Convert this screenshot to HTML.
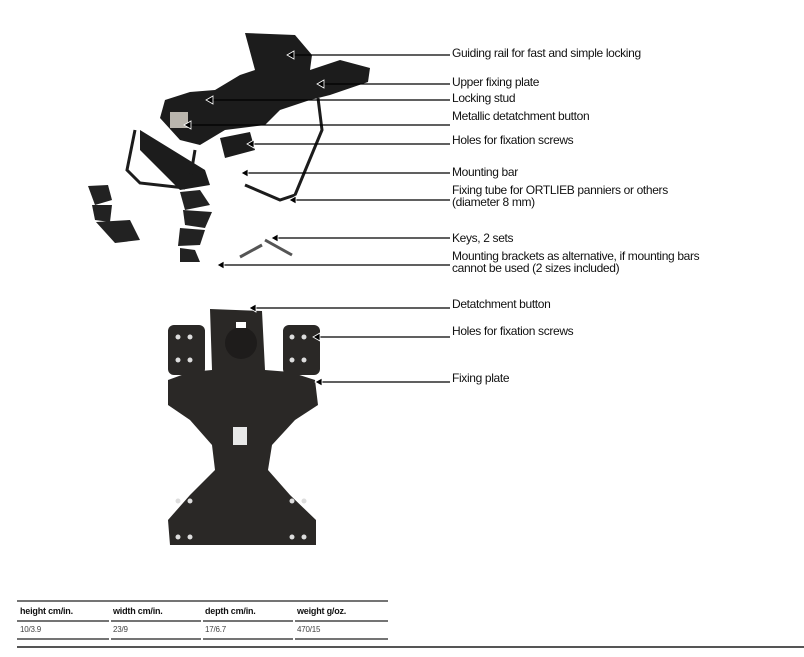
<!DOCTYPE html>
<html><head><meta charset="utf-8"><style>
body{margin:0;width:804px;height:657px;background:#fff;position:relative;overflow:hidden;font-family:"Liberation Sans",sans-serif}
.l{position:absolute;left:452px;font-size:12px;color:#111;line-height:12px;white-space:nowrap;letter-spacing:-0.35px}
.t{position:absolute;font-size:9px;color:#111;letter-spacing:-0.2px}
.h{font-weight:bold}
.v{font-size:8px;color:#444}
</style></head><body>
<svg width="804" height="657" style="position:absolute;left:0;top:0">
<g fill="#1c1c1c" stroke="none">
<path d="M245 33 L295 35 L312 55 L310 70 L340 60 L370 68 L368 82 L330 95 L310 100 L280 110 L265 125 L225 130 L200 145 L180 140 L160 118 L165 100 L190 92 L215 90 L240 75 L255 70 Z"/>
<path d="M140 130 L205 170 L210 185 L180 190 L140 150 Z"/>
<path d="M220 138 L250 132 L255 150 L225 158 Z"/>
</g>
<g fill="none" stroke="#1c1c1c" stroke-width="3">
<path d="M135 130 L127 170 L140 183 L185 188"/>
<path d="M318 98 L322 130 L295 195 L280 200 L245 185"/>
<path d="M195 150 L190 180"/>
</g>
<rect x="170" y="112" width="18" height="16" fill="#b9b5ad"/>
<g fill="#222">
<path d="M88 186 L108 185 L112 200 L95 205 Z"/><path d="M92 205 L112 205 L110 222 L95 220 Z"/><path d="M96 222 L130 220 L140 240 L115 243 Z"/>
<path d="M180 192 L200 190 L210 205 L185 210 Z"/><path d="M183 210 L212 212 L205 228 L185 225 Z"/><path d="M180 228 L205 230 L200 245 L178 246 Z"/><path d="M180 248 L195 250 L200 262 L180 262 Z"/>
</g>
<g stroke="#555" stroke-width="3"><line x1="240" y1="257" x2="262" y2="245"/><line x1="265" y1="240" x2="292" y2="255"/></g>
<g fill="#2a2826">
<path d="M210 309 L262 311 L265 370 L290 372 L315 380 L318 405 L295 420 L272 445 L268 470 L290 495 L316 520 L316 545 L170 545 L168 520 L190 495 L215 470 L212 445 L190 420 L168 405 L168 380 L190 372 L212 370 Z"/>
<rect x="168" y="325" width="37" height="50" rx="6"/><rect x="283" y="325" width="37" height="50" rx="6"/>
</g>
<circle cx="241" cy="343" r="16" fill="#1e1c1b"/>
<rect x="236" y="322" width="10" height="6" fill="#fff"/>
<rect x="233" y="427" width="14" height="18" fill="#e8e8e8"/>
<g fill="#ddd">
<circle cx="178" cy="337" r="2.5"/><circle cx="190" cy="337" r="2.5"/><circle cx="178" cy="360" r="2.5"/><circle cx="190" cy="360" r="2.5"/>
<circle cx="292" cy="337" r="2.5"/><circle cx="304" cy="337" r="2.5"/><circle cx="292" cy="360" r="2.5"/><circle cx="304" cy="360" r="2.5"/>
<circle cx="178" cy="501" r="2.5"/><circle cx="190" cy="501" r="2.5"/><circle cx="292" cy="501" r="2.5"/><circle cx="304" cy="501" r="2.5"/>
<circle cx="178" cy="537" r="2.5"/><circle cx="190" cy="537" r="2.5"/><circle cx="292" cy="537" r="2.5"/><circle cx="304" cy="537" r="2.5"/>
</g>
<g stroke="#000" stroke-width="1.2">
<line x1="292" y1="55" x2="450" y2="55"/><line x1="322" y1="84" x2="450" y2="84"/>
<line x1="211" y1="100" x2="450" y2="100"/><line x1="189" y1="125" x2="450" y2="125"/>
<line x1="252" y1="144" x2="450" y2="144"/><line x1="246" y1="173" x2="450" y2="173"/>
<line x1="294" y1="200" x2="450" y2="200"/><line x1="276" y1="238" x2="450" y2="238"/>
<line x1="222" y1="265" x2="450" y2="265"/><line x1="254" y1="308" x2="450" y2="308"/>
<line x1="318" y1="337" x2="450" y2="337"/><line x1="320" y1="382" x2="450" y2="382"/>
</g>
<g fill="#000" stroke="#fff" stroke-width="0.8">
<path d="M287 55 l7 -4 v8z"/><path d="M317 84 l7 -4 v8z"/><path d="M206 100 l7 -4 v8z"/><path d="M184 125 l7 -4 v8z"/>
<path d="M247 144 l7 -4 v8z"/><path d="M241 173 l7 -4 v8z"/><path d="M289 200 l7 -4 v8z"/><path d="M271 238 l7 -4 v8z"/>
<path d="M217 265 l7 -4 v8z"/><path d="M249 308 l7 -4 v8z"/><path d="M313 337 l7 -4 v8z"/><path d="M315 382 l7 -4 v8z"/>
</g>
<g stroke="#222" stroke-width="1.2">
<line x1="17" y1="601" x2="388" y2="601"/>
<line x1="17" y1="621" x2="109" y2="621"/><line x1="111" y1="621" x2="201" y2="621"/><line x1="203" y1="621" x2="293" y2="621"/><line x1="295" y1="621" x2="388" y2="621"/>
<line x1="17" y1="639" x2="109" y2="639"/><line x1="111" y1="639" x2="201" y2="639"/><line x1="203" y1="639" x2="293" y2="639"/><line x1="295" y1="639" x2="388" y2="639"/>
</g>
<line x1="17" y1="647" x2="804" y2="647" stroke="#555" stroke-width="2"/>
</svg>
<div class="l" style="top:47px">Guiding rail for fast and simple locking</div>
<div class="l" style="top:76px">Upper fixing plate</div>
<div class="l" style="top:92px">Locking stud</div>
<div class="l" style="top:110px">Metallic detatchment button</div>
<div class="l" style="top:134px">Holes for fixation screws</div>
<div class="l" style="top:166px">Mounting bar</div>
<div class="l" style="top:184px">Fixing tube for ORTLIEB panniers or others<br>(diameter 8 mm)</div>
<div class="l" style="top:232px">Keys, 2 sets</div>
<div class="l" style="top:250px">Mounting brackets as alternative, if mounting bars<br>cannot be used (2 sizes included)</div>
<div class="l" style="top:298px">Detatchment button</div>
<div class="l" style="top:325px">Holes for fixation screws</div>
<div class="l" style="top:372px">Fixing plate</div>
<div class="t h" style="left:20px;top:606px">height cm/in.</div>
<div class="t h" style="left:113px;top:606px">width cm/in.</div>
<div class="t h" style="left:205px;top:606px">depth cm/in.</div>
<div class="t h" style="left:297px;top:606px">weight g/oz.</div>
<div class="t v" style="left:20px;top:625px">10/3.9</div>
<div class="t v" style="left:113px;top:625px">23/9</div>
<div class="t v" style="left:205px;top:625px">17/6.7</div>
<div class="t v" style="left:297px;top:625px">470/15</div>
</body></html>
